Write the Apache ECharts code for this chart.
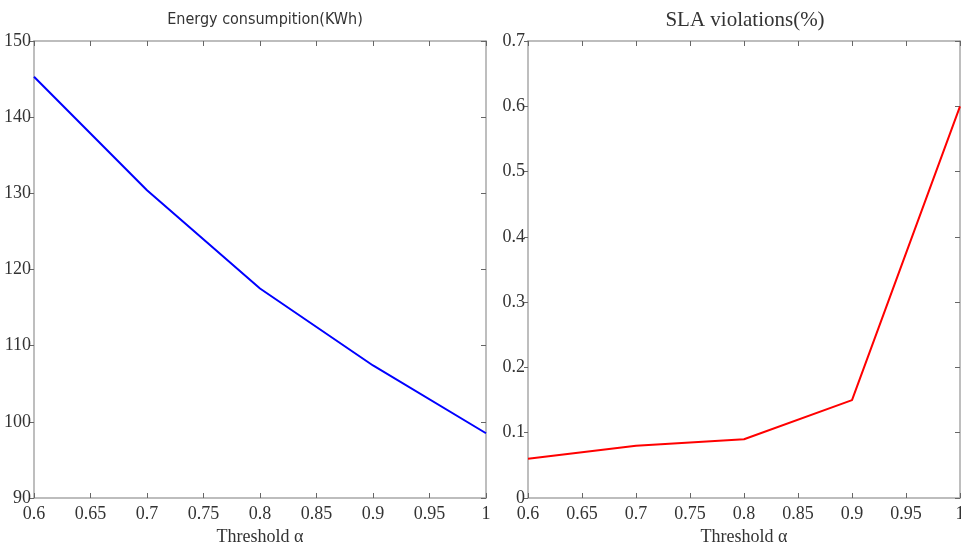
<!DOCTYPE html>
<html>
<head>
<meta charset="utf-8">
<script src="https://cdn.jsdelivr.net/npm/echarts@6/dist/echarts.min.js"></script>
<style>html,body{margin:0;padding:0;background:#fff}#c{width:961px;height:546px}</style>
</head>
<body>
<div id="c"></div>
<script>
const thresholds = [0.6, 0.7, 0.8, 0.9, 1.0];
const energy = [145.3, 130.4, 117.5, 107.4, 98.5];
const sla = [0.06, 0.08, 0.09, 0.15, 0.6];
const titles = ['Energy consumpition(KWh)', 'SLA violations(%)'];
const xName = 'Threshold \u03b1';

const serif = '"Liberation Serif", "DejaVu Serif", serif';
const narrow = '"Liberation Sans Narrow", "DejaVu Sans Condensed", sans-serif';
const axisCol = '#a8a8a8';
const tickCol = '#666';

function fmt(v){ return String(+v.toFixed(2)); }

function xAxes(gi){
  return [{
    gridIndex: gi, type: 'value', min: 0.6, max: 1, interval: 0.05,
    name: xName, nameLocation: 'middle', nameGap: 30,
    nameTextStyle: {fontFamily: serif, fontSize: 18, color: '#333'},
    axisLine: {show: true, onZero: false, lineStyle: {color: axisCol, width: 1.5}},
    axisTick: {show: true, inside: true, length: 5, lineStyle: {color: tickCol}},
    axisLabel: {formatter: fmt, fontFamily: serif, fontSize: 18, color: '#333', margin: 7},
    splitLine: {show: false}
  },{
    gridIndex: gi, type: 'value', min: 0.6, max: 1, interval: 0.05, position: 'top',
    axisLine: {show: true, onZero: false, lineStyle: {color: axisCol, width: 1.5}},
    axisTick: {show: true, inside: true, length: 5, lineStyle: {color: tickCol}},
    axisLabel: {show: false}, splitLine: {show: false}
  }];
}
function yAxes(gi, min, max, interval, f){
  return [{
    gridIndex: gi, type: 'value', min: min, max: max, interval: interval,
    axisLine: {show: true, onZero: false, lineStyle: {color: axisCol, width: 1.5}},
    axisTick: {show: true, inside: false, length: 4, lineStyle: {color: tickCol}},
    axisLabel: {formatter: f, fontFamily: serif, fontSize: 18, color: '#333', margin: 3},
    splitLine: {show: false}
  },{
    gridIndex: gi, type: 'value', min: min, max: max, interval: interval, position: 'right',
    axisLine: {show: true, onZero: false, lineStyle: {color: axisCol, width: 1.5}},
    axisTick: {show: true, inside: true, length: 5, lineStyle: {color: tickCol}},
    axisLabel: {show: false}, splitLine: {show: false}
  }];
}

const chart = echarts.init(document.getElementById('c'), null, {renderer: 'canvas'});
chart.setOption({
  animation: false,
  backgroundColor: '#fff',
  title: [
    {text: titles[0], left: 260, top: 7, textAlign: 'center',
     textStyle: {fontFamily: narrow, fontSize: 16, fontWeight: 'normal', color: '#333'}},
    {text: titles[1], left: 740, top: 5, textAlign: 'center',
     textStyle: {fontFamily: serif, fontSize: 21, fontWeight: 'normal', color: '#333'}}
  ],
  grid: [
    {left: 34, right: 475, top: 41, bottom: 48, containLabel: false, outerBoundsMode: 'none'},
    {left: 528, right: 1, top: 41, bottom: 48, containLabel: false, outerBoundsMode: 'none'}
  ],
  xAxis: [...xAxes(0), ...xAxes(1)],
  yAxis: [...yAxes(0, 90, 150, 10, v => String(v)), ...yAxes(1, 0, 0.7, 0.1, fmt)],
  series: [
    {type: 'line', xAxisIndex: 0, yAxisIndex: 0, showSymbol: false,
     data: thresholds.map((x, i) => [x, energy[i]]),
     lineStyle: {color: '#0000ff', width: 2}},
    {type: 'line', xAxisIndex: 2, yAxisIndex: 2, showSymbol: false,
     data: thresholds.map((x, i) => [x, sla[i]]),
     lineStyle: {color: '#ff0000', width: 2}}
  ]
});
</script>
</body>
</html>
